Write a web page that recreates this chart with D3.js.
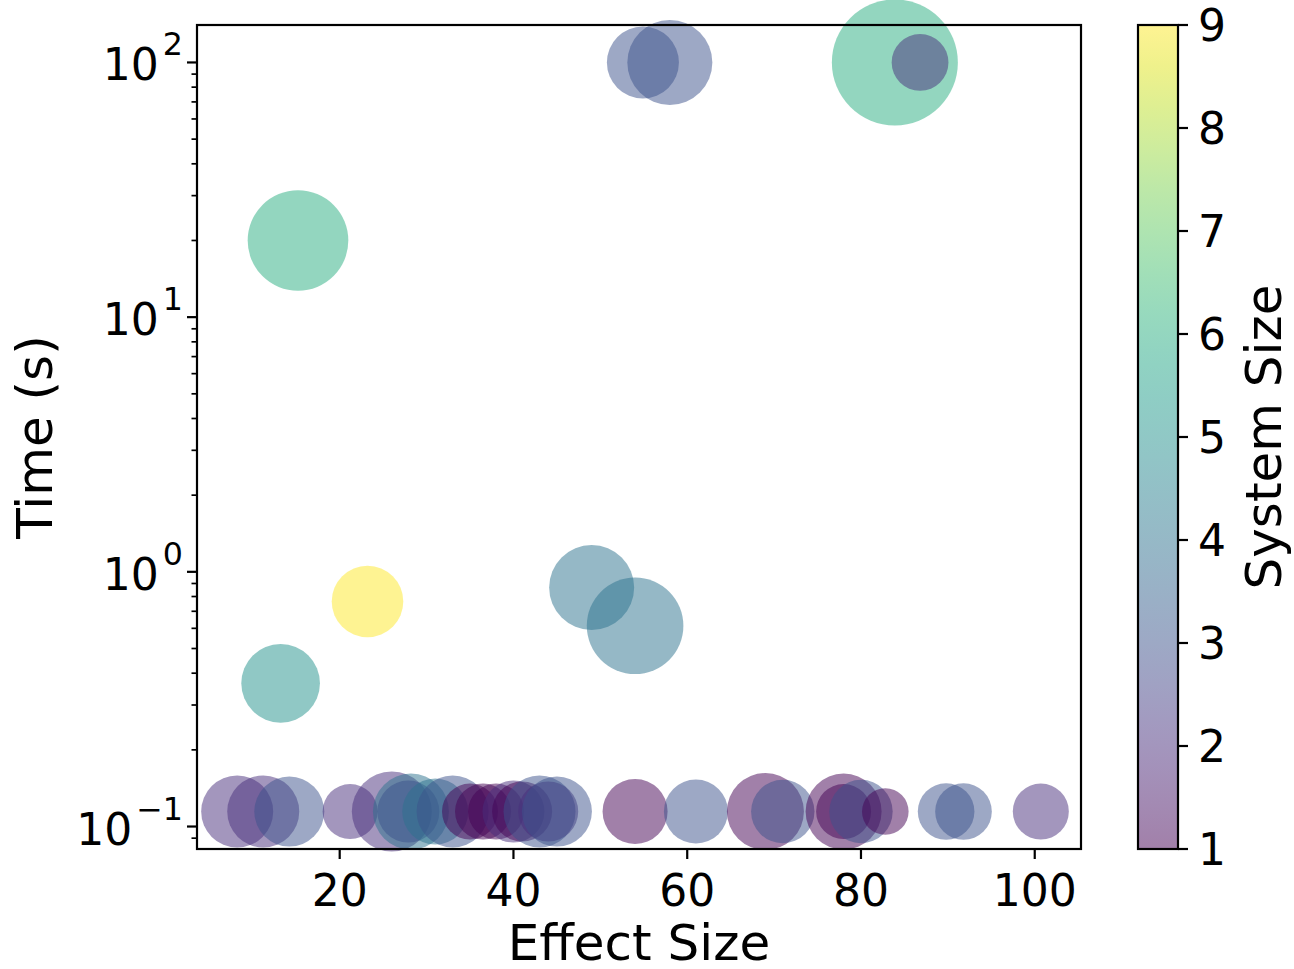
<!DOCTYPE html>
<html>
<head>
<meta charset="utf-8">
<script src="https://cdn.jsdelivr.net/npm/d3@7"></script>
<style>
  body { margin: 0; background: #fff; }
  text { font-family: "DejaVu Sans", sans-serif; fill: #000; }
</style>
</head>
<body>
<div id="chart"></div>
<script>
// data
var effectSize = [8.2, 11.2, 14.2, 21.2, 26, 28.2, 27.9, 31, 33, 35, 36.5, 38, 40, 41, 43, 44, 45,
                  54, 61, 69, 71, 78, 78, 80, 82.8, 89.8, 91.8, 100.7,
                  15.2, 13.2, 23.2, 49, 54, 54.9, 58, 83.9, 86.8];
var timeSec = [0.1145, 0.1145, 0.1145, 0.1145, 0.1145, 0.1145, 0.1145, 0.1145, 0.1145, 0.1145,
               0.1145, 0.1145, 0.1145, 0.1145, 0.1145, 0.1145, 0.1145, 0.1145, 0.1145, 0.1145,
               0.1145, 0.1145, 0.1145, 0.1145, 0.1145, 0.1145, 0.1145, 0.1145,
               20, 0.365, 0.765, 0.868, 0.614, 100, 100, 100, 100];
var systemSize = [2, 2, 3, 2, 2, 4, 3, 4, 3, 1, 1, 1, 2, 1, 3, 2, 3,
                  1, 3, 1, 3, 1, 1, 3, 1, 3, 3, 2,
                  6, 5, 9, 4, 4, 3, 3, 6, 2];
var markerSize = [671, 671, 634, 391, 828, 747, 497, 564, 671, 406, 406, 406, 497, 466, 671, 466, 634,
                  547, 530, 767, 520, 747, 391, 520, 281, 415, 415, 406,
                  1310, 800, 663, 935, 1207, 671, 935, 2054, 417];
var xTicks = [20, 40, 60, 80, 100];
var yTicks = [0.1, 1, 10, 100];
var cbTicks = [1, 2, 3, 4, 5, 6, 7, 8, 9];

var width = 1294, height = 969;
var plot = { left: 197, right: 1081, top: 25, bottom: 849 };
var cb = { left: 1138, right: 1178 };
var tickFont = 44, labelFont = 50;

var svg = d3.select("#chart").append("svg")
  .attr("width", width)
  .attr("height", height);

// 5% margins like the original
var xExt = d3.extent(effectSize);
var xPad = (xExt[1] - xExt[0]) * 0.05;
var x = d3.scaleLinear()
  .domain([xExt[0] - xPad, xExt[1] + xPad])
  .range([plot.left, plot.right]);

var lyExt = d3.extent(timeSec).map(Math.log10);
var lyPad = (lyExt[1] - lyExt[0]) * 0.05;
var y = d3.scaleLog()
  .domain([Math.pow(10, lyExt[0] - lyPad), Math.pow(10, lyExt[1] + lyPad)])
  .range([plot.bottom, plot.top]);

var r = d3.scaleSqrt().domain([0, 1000]).range([0, 43.96]);
var color = d3.scaleSequential(d3.interpolateViridis).domain([1, 9]);

var pts = effectSize.map(function(d, i) {
  return { x: d, t: timeSec[i], c: systemSize[i], s: markerSize[i] };
});

// bubbles
svg.append("g")
  .selectAll("circle")
  .data(pts)
  .enter()
  .append("circle")
  .attr("cx", function(d) { return x(d.x); })
  .attr("cy", function(d) { return y(d.t); })
  .attr("r", function(d) { return r(d.s); })
  .style("fill", function(d) { return color(d.c); })
  .style("fill-opacity", 0.5);

// frame
svg.append("rect")
  .attr("x", plot.left)
  .attr("y", plot.top)
  .attr("width", plot.right - plot.left)
  .attr("height", plot.bottom - plot.top)
  .style("fill", "none")
  .style("stroke", "#000")
  .style("stroke-width", 2.2);

// x axis
var xAxis = svg.append("g");
xTicks.forEach(function(t) {
  xAxis.append("line")
    .attr("x1", x(t)).attr("x2", x(t))
    .attr("y1", plot.bottom).attr("y2", plot.bottom + 10)
    .style("stroke", "#000").style("stroke-width", 2.2);
  xAxis.append("text")
    .attr("x", x(t))
    .attr("y", plot.bottom + 57)
    .attr("text-anchor", "middle")
    .style("font-size", tickFont + "px")
    .text(t);
});
svg.append("text")
  .attr("x", (plot.left + plot.right) / 2)
  .attr("y", 960)
  .attr("text-anchor", "middle")
  .style("font-size", labelFont + "px")
  .text("Effect Size");

// y axis (log) with minor ticks
var yAxis = svg.append("g");
var yDom = y.domain();
for (var e = -2; e <= 2; e++) {
  for (var m = 2; m <= 9; m++) {
    var v = m * Math.pow(10, e);
    if (v < yDom[0] || v > yDom[1]) continue;
    yAxis.append("line")
      .attr("x1", plot.left).attr("x2", plot.left - 5.5)
      .attr("y1", y(v)).attr("y2", y(v))
      .style("stroke", "#000").style("stroke-width", 1.7);
  }
}
yTicks.forEach(function(t) {
  var ex = Math.round(Math.log10(t));
  yAxis.append("line")
    .attr("x1", plot.left).attr("x2", plot.left - 10)
    .attr("y1", y(t)).attr("y2", y(t))
    .style("stroke", "#000").style("stroke-width", 2.2);
  var lab = yAxis.append("text")
    .attr("x", plot.left - 14)
    .attr("y", y(t) + 18)
    .attr("text-anchor", "end")
    .style("font-size", tickFont + "px");
  lab.append("tspan").text("10");
  lab.append("tspan")
    .attr("dx", 4)
    .attr("dy", -25)
    .style("font-size", (tickFont * 0.72) + "px")
    .text(ex < 0 ? "\u2212" + (-ex) : ex);
});
svg.append("text")
  .attr("transform", "translate(52," + ((plot.top + plot.bottom) / 2) + ") rotate(-90)")
  .attr("text-anchor", "middle")
  .style("font-size", labelFont + "px")
  .text("Time (s)");

// colorbar
var cbScale = d3.scaleLinear().domain([1, 9]).range([plot.bottom, plot.top]);
var grad = svg.append("defs").append("linearGradient")
  .attr("id", "cbgrad")
  .attr("x1", 0).attr("y1", 1).attr("x2", 0).attr("y2", 0);
d3.range(0, 1.0001, 0.05).forEach(function(p) {
  grad.append("stop")
    .attr("offset", p)
    .attr("stop-color", d3.interpolateViridis(p))
    .attr("stop-opacity", 0.5);
});
svg.append("rect")
  .attr("x", cb.left)
  .attr("y", plot.top)
  .attr("width", cb.right - cb.left)
  .attr("height", plot.bottom - plot.top)
  .style("fill", "url(#cbgrad)")
  .style("stroke", "#000")
  .style("stroke-width", 2.2);
cbTicks.forEach(function(t) {
  svg.append("line")
    .attr("x1", cb.right).attr("x2", cb.right + 10)
    .attr("y1", cbScale(t)).attr("y2", cbScale(t))
    .style("stroke", "#000").style("stroke-width", 2.2);
  svg.append("text")
    .attr("x", cb.right + 20)
    .attr("y", cbScale(t) + 16)
    .style("font-size", tickFont + "px")
    .text(t);
});
svg.append("text")
  .attr("transform", "translate(1281," + ((plot.top + plot.bottom) / 2) + ") rotate(-90)")
  .attr("text-anchor", "middle")
  .style("font-size", labelFont + "px")
  .text("System Size");
</script>
</body>
</html>
